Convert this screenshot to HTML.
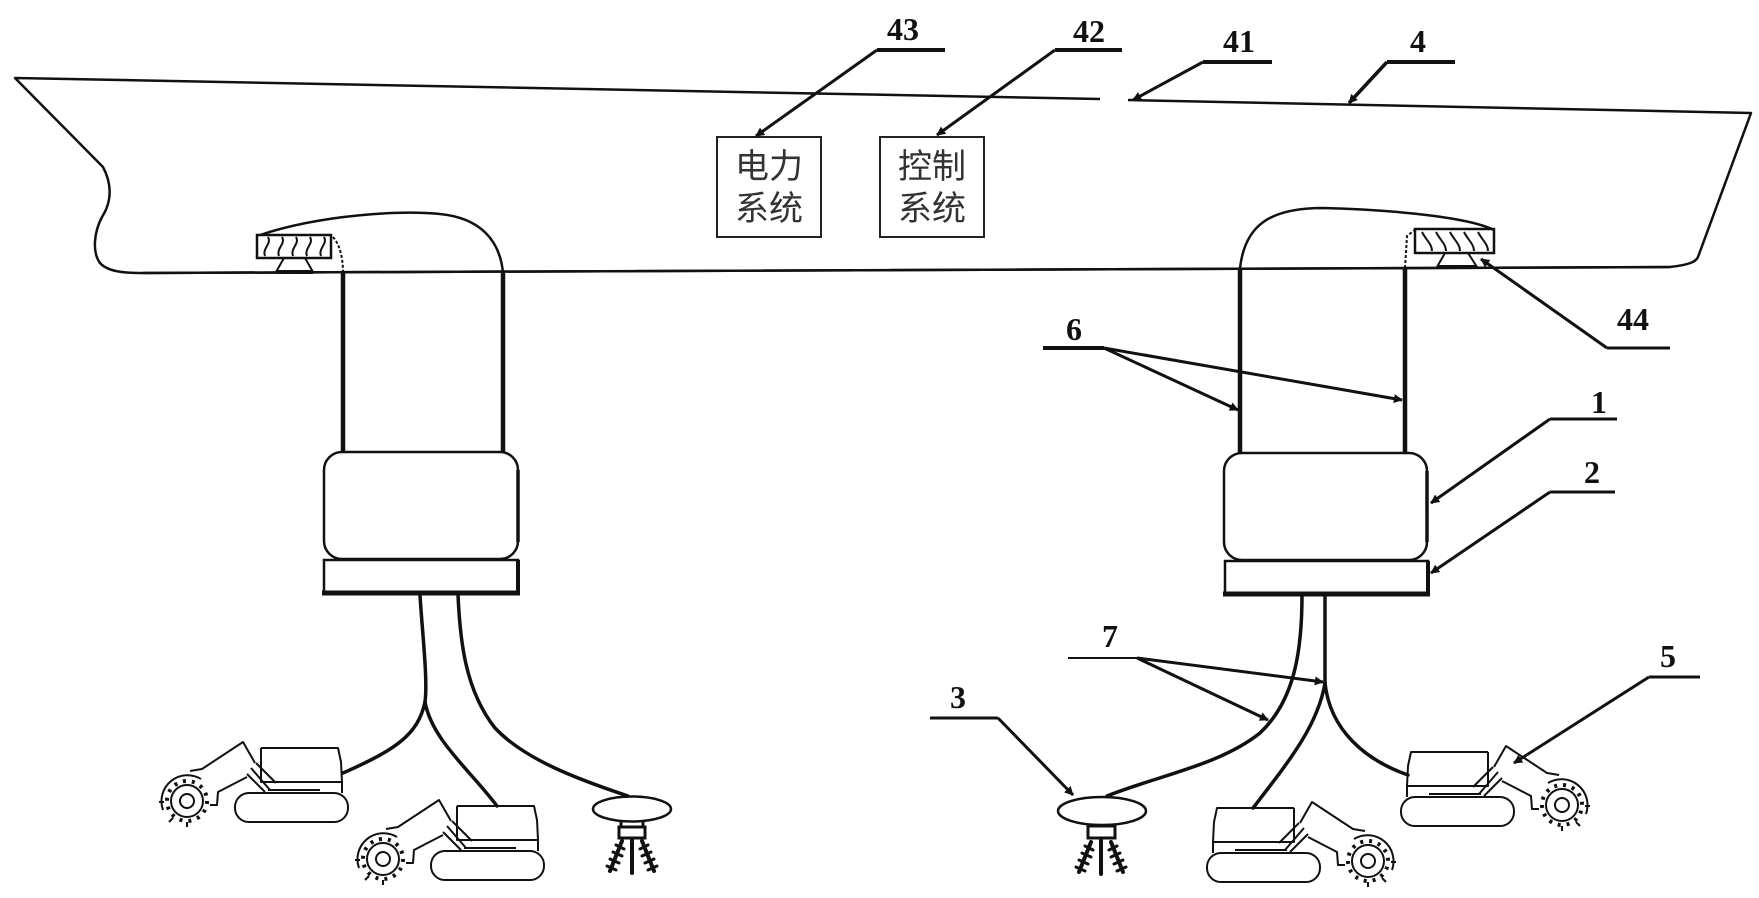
<!DOCTYPE html>
<html>
<head>
<meta charset="utf-8">
<style>
  html,body{margin:0;padding:0;background:#fff;}
  svg{display:block;}
  .num{font-family:"Liberation Serif",serif;font-weight:bold;font-size:32px;fill:#111;}
  .cjk{font-family:"Liberation Sans","Noto Sans CJK SC",sans-serif;font-size:34px;fill:#333;}
</style>
</head>
<body>
<svg width="1759" height="898" viewBox="0 0 1759 898" xmlns="http://www.w3.org/2000/svg">
  <defs>
    <marker id="ar" viewBox="0 0 10 10" refX="9" refY="5" markerUnits="userSpaceOnUse" markerWidth="12" markerHeight="9" orient="auto">
      <path d="M0,0 L10,5 L0,10 Z" fill="#111"/>
    </marker>
    <g id="crawler" fill="none" stroke="#111" stroke-width="2" stroke-linejoin="round">
      <!-- body -->
      <path d="M106,18 L183,18 L186,32 L187,52 L187,63" />
      <path d="M106,18 L106,52 L186,52" />
      <path d="M113,60 L165,60" />
      <!-- joint -->
      <path d="M96,38 L115,60" />
      <path d="M101,33 L121,53" />
      <path d="M92,44 L110,62" />
      <!-- track -->
      <rect x="80" y="63" width="113" height="29" rx="14" ry="14"/>
      <!-- arm -->
      <path d="M100,33 L88,12 L47,39 L35,41" />
      <path d="M92,47 L63,62 L62,75 L55,75" />
      <!-- wheel -->
      <circle cx="32" cy="71" r="7"/>
      <circle cx="32" cy="71" r="16"/>
      <circle cx="32" cy="71" r="20" stroke-width="4" stroke-dasharray="3 6"/>
      <path d="M8,80 A26,26 0 0 1 46,49" />
      <path d="M4,72 L9,72 M14,92 L18,88 M32,97 L32,92" />
    </g>
    <g id="sprayL" fill="none" stroke="#111" stroke-linecap="round">
      <path d="M0,0 L0,34" stroke-width="4"/>
      <path d="M-10,2 L-22,32" stroke-width="4"/>
      <path d="M-16,6 L-8,10 M-19,13 L-10,17 M-22,20 L-13,24 M-25,27 L-16,31" stroke-width="3"/>
      <path d="M10,2 L22,32" stroke-width="4"/>
      <path d="M16,6 L8,10 M19,13 L10,17 M22,20 L13,24 M25,27 L16,31" stroke-width="3"/>
    </g>
  </defs>

  <rect width="1759" height="898" fill="#fff"/>

  <!-- Hull -->
  <g fill="none" stroke="#111" stroke-width="2.5" stroke-linejoin="round">
    <path d="M1100,99 L15,78 L103,167 C111,182 113,200 102,217 C94,232 92,252 100,263 C108,272 125,273 143,273 L1670,267 C1688,265 1696,262 1698,257 L1751,113 L1128,100"/>
  </g>

  <!-- Left deck unit -->
  <g fill="none" stroke="#111">
    <rect x="257" y="235" width="74" height="23" stroke-width="2.5"/>
    <path d="M265,256 C262,248 272,244 268,237 M279,256 C276,248 286,244 282,237 M293,256 C290,248 300,244 296,237 M307,256 C304,248 314,244 310,237 M321,256 C318,248 328,244 324,237" stroke-width="2"/>
    <path d="M284,258 L276,272 L313,272 L305,258" stroke-width="2"/>
    <path d="M276,272 L313,272" stroke-width="4"/>
    <path d="M260,235 C320,215 400,210 440,214 C480,218 500,240 503,273" stroke-width="2.5"/>
    <path d="M333,237 C340,245 343,258 343,273" stroke-width="2" stroke-dasharray="3 2"/>
    <path d="M343,273 L343,453" stroke-width="4.5"/>
    <path d="M503,273 L503,453" stroke-width="4.5"/>
    <rect x="324" y="452" width="194" height="107" rx="18" ry="18" stroke-width="2.5"/>
    <path d="M518,470 L518,542" stroke-width="3.5"/>
    <rect x="324" y="560" width="194" height="33" stroke-width="2.5"/>
    <path d="M322,593 L520,593" stroke-width="5"/>
    <path d="M518,560 L518,593" stroke-width="4"/>
  </g>

  <!-- Right deck unit -->
  <g fill="none" stroke="#111">
    <rect x="1415" y="229" width="79" height="24" stroke-width="2.5"/>
    <path d="M1422,232 C1426,240 1432,244 1432,251 M1436,232 C1440,240 1446,244 1446,251 M1450,232 C1454,240 1460,244 1460,251 M1464,232 C1468,240 1474,244 1474,251 M1478,232 C1482,240 1488,244 1488,251" stroke-width="2"/>
    <path d="M1445,253 L1437,267 L1477,267 L1468,253" stroke-width="2"/>
    <path d="M1437,267 L1477,267" stroke-width="4"/>
    <path d="M1240,268 C1245,225 1270,208 1323,208 C1400,210 1470,218 1494,230" stroke-width="2.5"/>
    <path d="M1405,268 L1407,236 L1416,229" stroke-width="2" stroke-dasharray="3 2"/>
    <path d="M1240,268 L1240,453" stroke-width="4.5"/>
    <path d="M1405,268 L1405,453" stroke-width="4.5"/>
    <rect x="1224" y="453" width="203" height="107" rx="18" ry="18" stroke-width="2.5"/>
    <path d="M1427,471 L1427,542" stroke-width="3.5"/>
    <rect x="1225" y="561" width="203" height="33" stroke-width="2.5"/>
    <path d="M1223,594 L1430,594" stroke-width="5"/>
    <path d="M1428,561 L1428,594" stroke-width="4"/>
  </g>

  <!-- Hull bottom redrawn over units -->
  <path d="M143,273 L1670,267" stroke="#111" stroke-width="2.5" fill="none"/>

  <!-- Control boxes -->
  <g fill="#fff" stroke="#222" stroke-width="2">
    <rect x="717" y="137" width="104" height="100"/>
    <rect x="880" y="137" width="104" height="100"/>
  </g>
  <text class="cjk" x="769" y="178" text-anchor="middle">电力</text>
  <text class="cjk" x="769" y="220" text-anchor="middle">系统</text>
  <text class="cjk" x="932" y="178" text-anchor="middle">控制</text>
  <text class="cjk" x="932" y="220" text-anchor="middle">系统</text>

  <!-- Cables left -->
  <g fill="none" stroke="#111" stroke-width="3.5" stroke-linecap="round">
    <path d="M420,595 C422,630 428,680 425,702"/>
    <path d="M425,702 C418,735 395,750 343,773"/>
    <path d="M425,702 C432,740 470,770 497,806"/>
    <path d="M458,595 C460,640 465,690 495,728 C525,760 580,780 628,796"/>
  </g>
  <!-- Cables right -->
  <g fill="none" stroke="#111" stroke-width="3.5" stroke-linecap="round">
    <path d="M1302,595 C1302,650 1295,700 1260,733 C1220,765 1160,775 1107,796"/>
    <path d="M1325,595 L1325,683"/>
    <path d="M1325,683 C1318,725 1290,760 1253,808"/>
    <path d="M1325,683 C1330,730 1365,760 1408,775"/>
  </g>

  <!-- Crawlers -->
  <use href="#crawler" transform="translate(155,730)"/>
  <use href="#crawler" transform="translate(351,788)"/>
  <use href="#crawler" transform="translate(1400,790) scale(-1,1)"/>
  <use href="#crawler" transform="translate(1594,734) scale(-1,1)"/>

  <!-- Sprinklers -->
  <g fill="none" stroke="#111" stroke-width="2.5">
    <ellipse cx="632" cy="809" rx="39" ry="12.5"/>
    <rect x="619" y="827" width="26" height="11" stroke-width="3"/>
    <path d="M621,821 L621,827 M643,821 L643,827" stroke-width="3"/>
    <ellipse cx="1102" cy="811" rx="44" ry="14"/>
    <rect x="1088" y="826" width="27" height="12" stroke-width="3"/>
    <path d="M1090,825 L1090,826 M1113,825 L1113,826" stroke-width="3"/>
  </g>
  <use href="#sprayL" transform="translate(632,839)"/>
  <use href="#sprayL" transform="translate(1101,840)"/>

  <!-- Leaders -->
  <g fill="none" stroke="#111" stroke-linecap="butt">
    <!-- 43 -->
    <path d="M945,50 L877,50" stroke-width="4"/>
    <path d="M877,50 L756,136" stroke-width="3" marker-end="url(#ar)"/>
    <!-- 42 -->
    <path d="M1122,50 L1055,50" stroke-width="4"/>
    <path d="M1055,50 L937,135" stroke-width="3" marker-end="url(#ar)"/>
    <!-- 41 -->
    <path d="M1272,62 L1203,62" stroke-width="4"/>
    <path d="M1203,62 L1133,100" stroke-width="3" marker-end="url(#ar)"/>
    <!-- 4 -->
    <path d="M1455,62 L1387,62" stroke-width="4"/>
    <path d="M1387,62 L1349,103" stroke-width="3.5" marker-end="url(#ar)"/>
    <!-- 44 -->
    <path d="M1670,348 L1607,348" stroke-width="3"/>
    <path d="M1607,348 L1481,259" stroke-width="3" marker-end="url(#ar)"/>
    <!-- 6 -->
    <path d="M1043,348 L1104,348" stroke-width="4"/>
    <path d="M1104,348 L1238,410" stroke-width="3" marker-end="url(#ar)"/>
    <path d="M1104,348 L1402,400" stroke-width="3" marker-end="url(#ar)"/>
    <!-- 1 -->
    <path d="M1617,419 L1550,419" stroke-width="3"/>
    <path d="M1550,419 L1431,503" stroke-width="3" marker-end="url(#ar)"/>
    <!-- 2 -->
    <path d="M1615,492 L1550,492" stroke-width="3"/>
    <path d="M1550,492 L1431,573" stroke-width="3" marker-end="url(#ar)"/>
    <!-- 7 -->
    <path d="M1068,658 L1137,658" stroke-width="2"/>
    <path d="M1137,658 L1268,720" stroke-width="3" marker-end="url(#ar)"/>
    <path d="M1137,658 L1323,682" stroke-width="3" marker-end="url(#ar)"/>
    <!-- 3 -->
    <path d="M930,718 L998,718" stroke-width="3"/>
    <path d="M998,718 L1073,795" stroke-width="3" marker-end="url(#ar)"/>
    <!-- 5 -->
    <path d="M1700,677 L1649,677" stroke-width="3"/>
    <path d="M1649,677 L1514,763" stroke-width="3" marker-end="url(#ar)"/>
  </g>

  <!-- Labels -->
  <text class="num" x="887" y="40">43</text>
  <text class="num" x="1073" y="42">42</text>
  <text class="num" x="1223" y="52">41</text>
  <text class="num" x="1410" y="52">4</text>
  <text class="num" x="1617" y="330">44</text>
  <text class="num" x="1066" y="340">6</text>
  <text class="num" x="1591" y="413">1</text>
  <text class="num" x="1584" y="483">2</text>
  <text class="num" x="1102" y="647">7</text>
  <text class="num" x="950" y="708">3</text>
  <text class="num" x="1660" y="667">5</text>
</svg>
</body>
</html>
